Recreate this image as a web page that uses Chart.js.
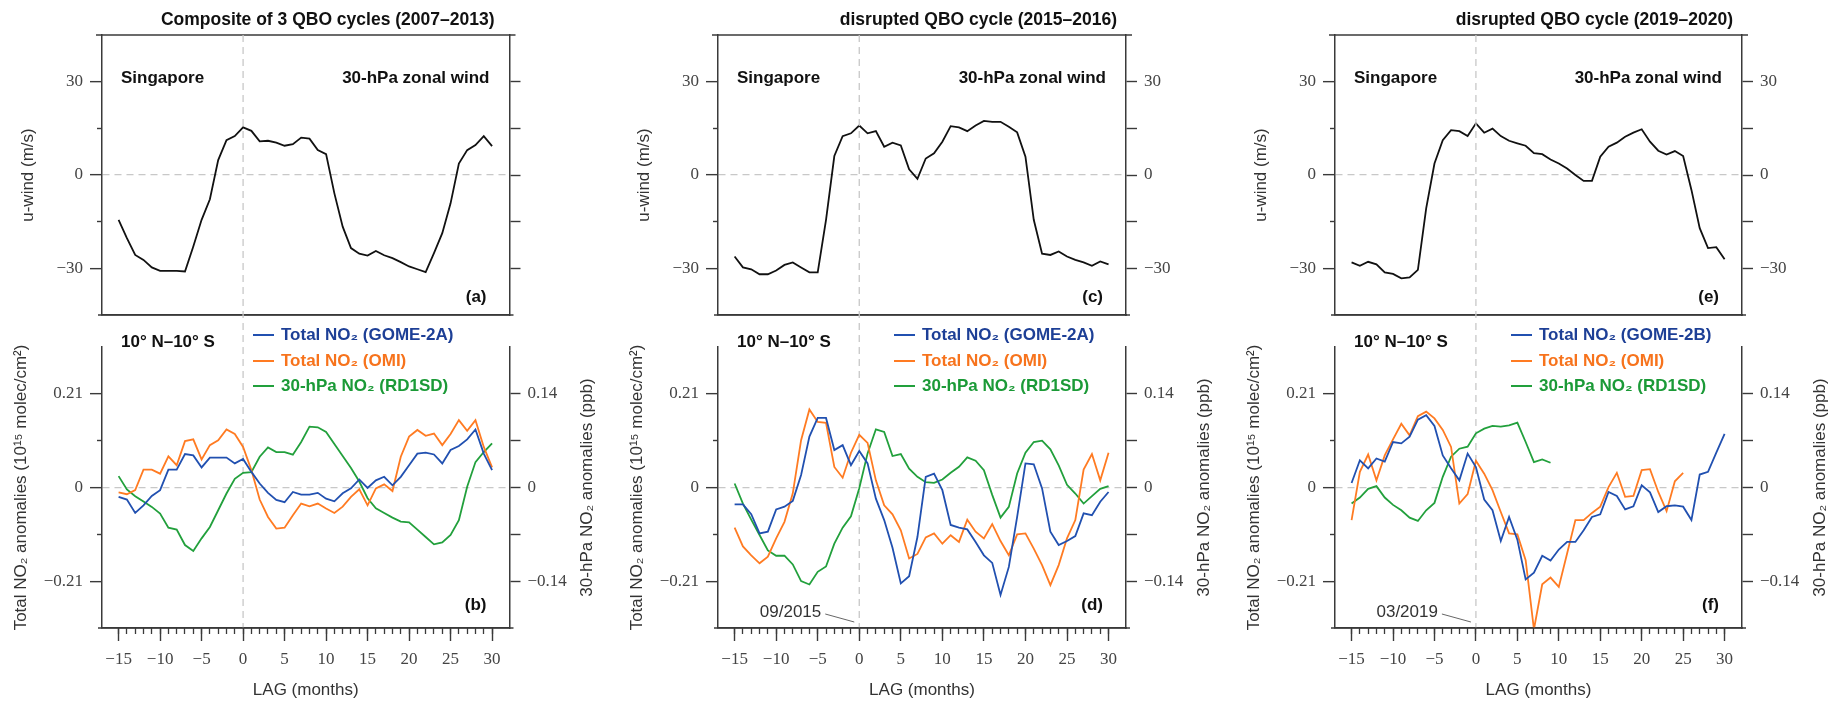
<!DOCTYPE html>
<html>
<head>
<meta charset="utf-8">
<script src="https://cdn.jsdelivr.net/npm/chart.js@4.4.1/dist/chart.umd.min.js"></script>
<style>
html, body { margin: 0; padding: 0; background: #fff; }
#wrap { position: relative; width: 1838px; height: 703px; }
#wrap canvas { position: absolute; left: 0; top: 0; }
</style>
</head>
<body>
<div id="wrap">
  <canvas id="pa" width="1838" height="703"></canvas>
  <canvas id="pc" width="1838" height="703"></canvas>
  <canvas id="pe" width="1838" height="703"></canvas>
  <canvas id="pb" width="1838" height="703"></canvas>
  <canvas id="pd" width="1838" height="703"></canvas>
  <canvas id="pf" width="1838" height="703"></canvas>
</div>
<script>
// lag in months
var lags = [-15,-14,-13,-12,-11,-10,-9,-8,-7,-6,-5,-4,-3,-2,-1,0,1,2,3,4,5,6,7,8,9,10,
            11,12,13,14,15,16,17,18,19,20,21,22,23,24,25,26,27,28,29,30];
var lagMajor = [-15,-10,-5,0,5,10,15,20,25,30];

// tick values
var windLeftTicks = [-30, 0, 30];
var windMinorTicks = [-15, 15];
var windRightTicks = [-30, -15, 0, 15, 30];
var no2Ticks = [-0.21, 0, 0.21];
var no2MinorTicks = [-0.105, 0.105];
var rd1sdTicks = [-0.14, -0.07, 0, 0.07, 0.14];
var rd1sdLabelled = [-0.14, 0, 0.14];

// (a) composite 2007-2013, Singapore 30 hPa u-wind (m/s)
var windA = [-14.4,-20.3,-25.7,-27.3,-29.7,-30.8,-30.8,-30.8,-31,-23,
             -14.4,-7.8,4.8,11.2,12.5,15.3,14.2,10.8,11,10.4,
             9.4,9.9,12,11.7,8,6.7,-5.9,-16.6,-23.5,-25.3,
             -25.9,-24.4,-25.8,-26.7,-28,-29.4,-30.3,-31.2,-25.1,-18.7,
             -9.1,3.7,8,9.6,12.5,9.3];
// (b)
var gome2aB = [-0.021,-0.027,-0.057,-0.040,-0.019,-0.006,0.040,0.040,0.075,0.072,
               0.045,0.067,0.067,0.067,0.054,0.064,0.035,0.009,-0.012,-0.028,
               -0.033,-0.010,-0.016,-0.016,-0.012,-0.025,-0.031,-0.013,-0.002,0.018,
               -0.001,0.016,0.024,0.005,0.024,0.050,0.076,0.078,0.074,0.054,
               0.084,0.093,0.108,0.130,0.076,0.039];
var omiB = [-0.011,-0.015,-0.006,0.040,0.040,0.031,0.070,0.050,0.104,0.108,
            0.063,0.095,0.106,0.130,0.120,0.091,0.039,-0.027,-0.066,-0.092,
            -0.090,-0.062,-0.036,-0.042,-0.036,-0.047,-0.057,-0.043,-0.021,-0.004,
            -0.040,-0.002,0.007,-0.008,0.069,0.114,0.129,0.116,0.121,0.095,
            0.120,0.151,0.127,0.151,0.091,0.045];
var rd1sdB = [0.017,-0.003,-0.013,-0.021,-0.029,-0.039,-0.060,-0.063,-0.086,-0.095,
              -0.076,-0.059,-0.034,-0.009,0.013,0.022,0.023,0.046,0.060,0.053,
              0.053,0.049,0.068,0.091,0.090,0.083,0.065,0.047,0.029,0.009,
              -0.016,-0.031,-0.038,-0.045,-0.051,-0.052,-0.063,-0.074,-0.085,-0.082,
              -0.071,-0.049,0.001,0.038,0.053,0.066];

// (c) disrupted cycle 2015-2016
var windC = [-26.2,-29.7,-30.3,-31.9,-31.9,-30.7,-28.9,-28.1,-29.7,-31.3,
             -31.3,-14.4,6.1,12.5,13.4,15.9,13.4,14.1,9.1,10.4,
             9.5,1.8,-1.2,5.3,7,10.7,15.7,15.3,14.1,15.9,
             17.4,17.1,17.1,15.5,13.7,5.9,-14.4,-25.3,-25.7,-24.6,
             -26.2,-27.3,-28.1,-29.2,-27.8,-28.7];
// (d)
var gome2aD = [-0.038,-0.038,-0.060,-0.103,-0.099,-0.049,-0.043,-0.030,0.028,0.114,
               0.156,0.156,0.084,0.095,0.050,0.082,0.054,-0.025,-0.073,-0.135,
               -0.215,-0.199,-0.111,0.024,0.031,-0.006,-0.084,-0.090,-0.094,-0.122,
               -0.152,-0.169,-0.241,-0.178,-0.066,0.054,0.052,-0.002,-0.099,-0.129,
               -0.120,-0.109,-0.058,-0.062,-0.032,-0.010];
var omiD = [-0.090,-0.132,-0.152,-0.170,-0.155,-0.114,-0.077,-0.013,0.106,0.175,
            0.147,0.145,0.046,0.022,0.078,0.118,0.100,0.016,-0.040,-0.060,
            -0.096,-0.159,-0.149,-0.112,-0.103,-0.126,-0.107,-0.122,-0.072,-0.099,
            -0.114,-0.082,-0.120,-0.152,-0.105,-0.103,-0.137,-0.174,-0.219,-0.174,
            -0.114,-0.073,0.040,0.075,0.016,0.078];
var rd1sdD = [0.006,-0.024,-0.048,-0.071,-0.094,-0.102,-0.102,-0.115,-0.140,-0.145,
              -0.126,-0.118,-0.084,-0.060,-0.043,-0.001,0.051,0.087,0.083,0.047,
              0.050,0.028,0.016,0.008,0.007,0.012,0.022,0.031,0.045,0.040,
              0.026,-0.011,-0.045,-0.029,0.021,0.052,0.068,0.070,0.057,0.033,
              0.004,-0.009,-0.024,-0.013,-0.002,0.002];

// (e) disrupted cycle 2019-2020
var windE = [-28.1,-29.2,-27.9,-28.7,-31.3,-31.8,-33.2,-32.9,-30.5,-10.7,
             3.7,11.2,14.4,14.1,12.5,16.6,13.6,14.9,12.5,11,
             10.2,9.4,7,6.7,5,3.7,2.1,0,-1.9,-1.9,
             5.9,9.1,10.4,12.3,13.6,14.7,10.7,7.8,6.6,7.7,
             6.1,-4.8,-17.1,-23.5,-23.2,-27.1];
// (f)
var gome2bF = [0.010,0.061,0.043,0.065,0.058,0.102,0.099,0.114,0.152,0.162,
               0.138,0.072,0.043,0.016,0.076,0.046,-0.027,-0.051,-0.120,-0.066,
               -0.117,-0.206,-0.191,-0.153,-0.164,-0.139,-0.122,-0.122,-0.096,-0.066,
               -0.060,-0.010,-0.019,-0.049,-0.042,0.005,-0.011,-0.055,-0.042,-0.040,
               -0.043,-0.073,0.029,0.035,0.078,0.120];
var omiF = [-0.073,0.035,0.074,0.016,0.072,0.108,0.143,0.117,0.160,0.170,
            0.155,0.129,0.091,-0.036,-0.015,0.060,0.031,-0.006,-0.055,-0.103,
            -0.105,-0.163,-0.318,-0.217,-0.202,-0.223,-0.148,-0.073,-0.073,-0.057,
            -0.043,0.001,0.033,-0.021,-0.019,0.039,0.041,-0.010,-0.053,0.014,
            0.033,null,null,null,null,null];
var rd1sdF = [-0.024,-0.015,-0.002,0.002,-0.015,-0.026,-0.034,-0.045,-0.050,-0.034,
              -0.023,0.016,0.046,0.058,0.061,0.081,0.088,0.092,0.091,0.093,
              0.097,0.068,0.038,0.042,0.037,null,null,null,null,null,
              null,null,null,null,null,null,null,null,null,null,
              null,null,null,null,null,null];

var W = 1838;
var colL = [102, 718, 1335], colR = [509.5, 1126, 1742];
var upTop = 35, upBot = 315, loTop = 347, loBot = 628;
var axisCol = '#3a3a3a';
var sans = "'Liberation Sans', Arial, Helvetica, sans-serif";
var serif = "'Liberation Serif', 'Times New Roman', Times, serif";
var BLUE = '#2150b0', ORANGE = '#ff7b22', GREEN = '#22a03c';

Chart.defaults.font.family = sans;

function fmt(v) {
  if (v === 0) return '0';
  return (v < 0 ? '\u2212' : '') + Math.abs(v);
}
function fixTicks(list) {
  return function (s) { s.ticks = list.map(function (v) { return { value: v }; }); };
}
function txt(ctx, s, x, y, font, color, align) {
  ctx.save();
  ctx.font = font;
  ctx.fillStyle = color;
  ctx.textAlign = align;
  ctx.textBaseline = 'middle';
  ctx.fillText(s, x, y);
  ctx.restore();
}
function hline(ctx, x1, x2, y) {
  ctx.save();
  ctx.strokeStyle = axisCol;
  ctx.lineWidth = 1.5;
  ctx.beginPath();
  ctx.moveTo(x1, y);
  ctx.lineTo(x2, y);
  ctx.stroke();
  ctx.restore();
}
var tickFont = { family: serif, size: 17 };
var tickCol = '#444';

// short unlabelled ticks on the left axis
function minorLeft(min, max, list) {
  return {
    position: 'left', weight: 0, min: min, max: max,
    afterFit: function (s) { s.width = 0; },
    afterBuildTicks: fixTicks(list),
    ticks: { display: false },
    grid: { color: 'transparent', tickLength: 5, tickColor: axisCol, tickWidth: 1.4 },
    border: { display: false }
  };
}

function upper(id, col, wind, title, titleOff, tag, rightLabels) {
  var L = colL[col], R = colR[col];
  var deco = {
    id: 'deco',
    afterDraw: function (c) {
      var ctx = c.ctx, a = c.chartArea;
      hline(ctx, a.left - 6, a.right + 6, a.top);
      hline(ctx, a.left - 4, a.right + 4, a.bottom);
      txt(ctx, title, a.right - titleOff, 20, 'bold 17.5px ' + sans, '#111', 'right');
      txt(ctx, 'Singapore', a.left + 19, 78, 'bold 17px ' + sans, '#111', 'left');
      txt(ctx, '30-hPa zonal wind', a.right - 20, 78, 'bold 17px ' + sans, '#111', 'right');
      txt(ctx, tag, a.right - 23, 297, 'bold 17px ' + sans, '#111', 'right');
    }
  };
  return new Chart(document.getElementById(id), {
    type: 'line',
    data: {
      labels: lags,
      datasets: [{ data: wind, borderColor: '#111', borderWidth: 1.8, pointRadius: 0, tension: 0 }]
    },
    options: {
      responsive: false, animation: false, devicePixelRatio: 1,
      layout: { padding: { left: 0, right: 0, top: upTop, bottom: 703 - upBot } },
      plugins: { legend: { display: false }, tooltip: { enabled: false } },
      scales: {
        x: {
          type: 'linear', min: -17, max: 32.1,
          afterFit: function (s) { s.height = 0; },
          ticks: { display: false },
          grid: { color: 'transparent', drawTicks: false },
          border: { color: axisCol, width: 1.5 }
        },
        ym: minorLeft(-45, 45, windMinorTicks),
        y: {
          position: 'left', weight: 1, min: -45, max: 45,
          afterFit: function (s) { s.width = L; },
          afterBuildTicks: fixTicks(windLeftTicks),
          ticks: { font: tickFont, color: tickCol, padding: 7, callback: fmt },
          grid: {
            color: function (ctx) { return ctx.tick && ctx.tick.value === 0 ? '#c8c8c8' : 'transparent'; },
            lineWidth: 1.3, tickLength: 12, tickColor: axisCol, tickWidth: 1.4, tickBorderDash: []
          },
          border: { color: axisCol, width: 1.5, dash: [7, 5] },
          title: { display: true, text: 'u-wind (m/s)', color: '#333', font: { size: 17 },
                   padding: { top: L - 74 - 10.2, bottom: 0 } }
        },
        y2: {
          position: 'right', min: -45, max: 45,
          afterFit: function (s) { s.width = W - R; },
          afterBuildTicks: fixTicks(windRightTicks),
          ticks: {
            display: rightLabels, font: tickFont, color: tickCol, padding: 7,
            callback: function (v) { return windLeftTicks.indexOf(v) >= 0 ? fmt(v) : ''; }
          },
          grid: { drawOnChartArea: false, tickLength: 11, tickColor: axisCol, tickWidth: 1.4 },
          border: { color: axisCol, width: 1.5 }
        }
      }
    },
    plugins: [deco]
  });
}

function lower(id, col, blue, blueName, orange, green, tag, legendX, dateLabel) {
  var L = colL[col], R = colR[col];
  var deco = {
    id: 'deco',
    beforeDatasetsDraw: function (c) {
      var ctx = c.ctx, a = c.chartArea, x0 = c.scales.x.getPixelForValue(0);
      ctx.save();
      ctx.strokeStyle = '#c8c8c8';
      ctx.lineWidth = 1.3;
      ctx.setLineDash([7, 5]);
      ctx.beginPath();
      ctx.moveTo(x0, upTop);
      ctx.lineTo(x0, a.bottom);
      ctx.stroke();
      ctx.restore();
    },
    afterDraw: function (c) {
      var ctx = c.ctx, a = c.chartArea, x0 = c.scales.x.getPixelForValue(0);
      hline(ctx, a.left - 4, a.right + 4, a.bottom);
      ctx.save();
      ctx.translate(a.right + 78, (a.top + a.bottom) / 2);
      ctx.rotate(-Math.PI / 2);
      ctx.font = '17px ' + sans;
      ctx.fillStyle = '#333';
      ctx.textAlign = 'center';
      ctx.textBaseline = 'middle';
      ctx.fillText('30-hPa NO\u2082 anomalies (ppb)', 0, 0);
      ctx.restore();

      txt(ctx, '10\u00b0 N\u201310\u00b0 S', a.left + 19, 342, 'bold 17px ' + sans, '#111', 'left');
      txt(ctx, tag, a.right - 23, 605, 'bold 17px ' + sans, '#111', 'right');

      var rows = [
        ['Total NO\u2082 (' + blueName + ')', BLUE, '#1d3f96', 335],
        ['Total NO\u2082 (OMI)', ORANGE, '#f7731c', 361],
        ['30-hPa NO\u2082 (RD1SD)', GREEN, '#1b9a37', 386]
      ];
      rows.forEach(function (r) {
        ctx.save();
        ctx.strokeStyle = r[1];
        ctx.lineWidth = 2;
        ctx.beginPath();
        ctx.moveTo(a.left + legendX, r[3]);
        ctx.lineTo(a.left + legendX + 21, r[3]);
        ctx.stroke();
        ctx.restore();
        txt(ctx, r[0], a.left + legendX + 28, r[3], 'bold 17px ' + sans, r[2], 'left');
      });

      if (dateLabel) {
        txt(ctx, dateLabel, x0 - 38, 612, '17px ' + sans, '#333', 'right');
        ctx.save();
        ctx.strokeStyle = '#555';
        ctx.lineWidth = 0.9;
        ctx.beginPath();
        ctx.moveTo(x0 - 34, 614);
        ctx.lineTo(x0 - 5, 622);
        ctx.stroke();
        ctx.restore();
      }
    }
  };
  return new Chart(document.getElementById(id), {
    type: 'line',
    data: {
      labels: lags,
      datasets: [
        { data: blue, borderColor: BLUE, borderWidth: 1.8, pointRadius: 0, tension: 0, yAxisID: 'y' },
        { data: orange, borderColor: ORANGE, borderWidth: 1.8, pointRadius: 0, tension: 0, yAxisID: 'y' },
        { data: green, borderColor: GREEN, borderWidth: 1.8, pointRadius: 0, tension: 0, yAxisID: 'y2' }
      ]
    },
    options: {
      responsive: false, animation: false, devicePixelRatio: 1,
      layout: { padding: { left: 0, right: 0, top: loTop, bottom: 0 } },
      plugins: { legend: { display: false }, tooltip: { enabled: false } },
      scales: {
        xm: {
          type: 'linear', position: 'bottom', weight: 0, min: -17, max: 32.1,
          afterFit: function (s) { s.height = 0; },
          afterBuildTicks: fixTicks(lags),
          ticks: { display: false },
          grid: { color: 'transparent', tickLength: 6, tickColor: axisCol, tickWidth: 1.3 },
          border: { display: false }
        },
        x: {
          type: 'linear', position: 'bottom', weight: 1, min: -17, max: 32.1,
          afterFit: function (s) { s.height = 703 - loBot; },
          afterBuildTicks: fixTicks(lagMajor),
          ticks: { font: tickFont, color: tickCol, padding: 8, maxRotation: 0, callback: fmt },
          grid: { color: 'transparent', tickLength: 13, tickColor: axisCol, tickWidth: 1.4 },
          border: { color: axisCol, width: 1.5 },
          title: { display: true, text: 'LAG (months)', color: '#333', font: { size: 17 },
                   padding: { top: 0, bottom: 2 } }
        },
        ym: minorLeft(-0.315, 0.315, no2MinorTicks),
        y: {
          position: 'left', weight: 1, min: -0.315, max: 0.315,
          afterFit: function (s) { s.width = L; },
          afterBuildTicks: fixTicks(no2Ticks),
          ticks: { font: tickFont, color: tickCol, padding: 7, callback: fmt },
          grid: {
            color: function (ctx) { return ctx.tick && ctx.tick.value === 0 ? '#c8c8c8' : 'transparent'; },
            lineWidth: 1.3, tickLength: 12, tickColor: axisCol, tickWidth: 1.4, tickBorderDash: []
          },
          border: { color: axisCol, width: 1.5, dash: [7, 5] },
          title: { display: true, text: 'Total NO\u2082 anomalies (10\u00b9\u2075 molec/cm\u00b2)', color: '#333',
                   font: { size: 17 }, padding: { top: L - 81 - 10.2, bottom: 0 } }
        },
        y2: {
          position: 'right', min: -0.21, max: 0.21,
          afterFit: function (s) { s.width = W - R; },
          afterBuildTicks: fixTicks(rd1sdTicks),
          ticks: {
            font: tickFont, color: tickCol, padding: 7,
            callback: function (v) { return rd1sdLabelled.indexOf(v) >= 0 ? fmt(v) : ''; }
          },
          grid: { drawOnChartArea: false, tickLength: 11, tickColor: axisCol, tickWidth: 1.4 },
          border: { color: axisCol, width: 1.5 }
        }
      }
    },
    plugins: [deco]
  });
}

upper('pa', 0, windA, 'Composite of 3 QBO cycles (2007\u20132013)', 15, '(a)', false);
upper('pc', 1, windC, 'disrupted QBO cycle (2015\u20132016)', 9, '(c)', true);
upper('pe', 2, windE, 'disrupted QBO cycle (2019\u20132020)', 9, '(e)', true);
lower('pb', 0, gome2aB, 'GOME-2A', omiB, rd1sdB, '(b)', 151, null);
lower('pd', 1, gome2aD, 'GOME-2A', omiD, rd1sdD, '(d)', 176, '09/2015');
lower('pf', 2, gome2bF, 'GOME-2B', omiF, rd1sdF, '(f)', 176, '03/2019');
</script>
</body>
</html>
